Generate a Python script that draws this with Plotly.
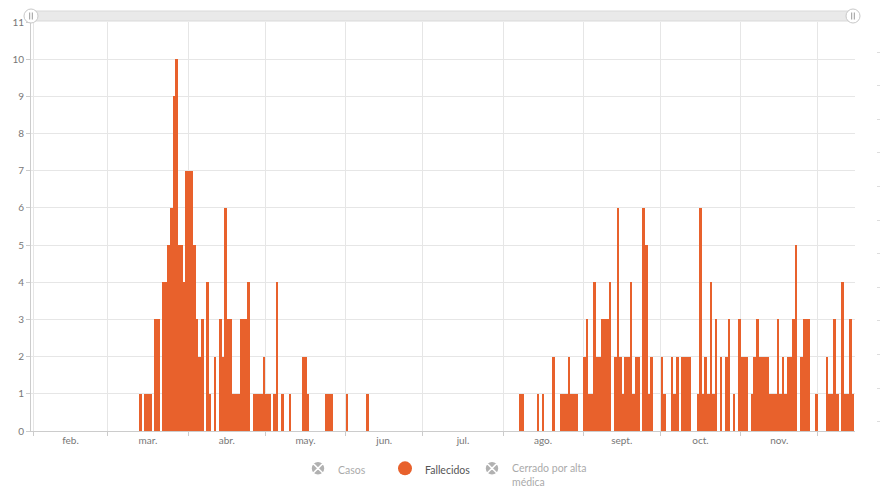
import pandas as pd
import plotly.graph_objects as go

# ---- data: daily deaths ("Fallecidos"), one value per day starting 2020-02-24 ----
start_day = "2020-02-24"
feb_tail = [0, 0, 0, 0, 0, 0]
mar = [0, 0, 0, 0, 0, 0, 0, 0, 0, 0, 0, 0, 1, 0, 1, 1, 1, 0, 3, 3, 0, 4, 4, 5, 6, 9, 10, 5, 5, 4, 7]
apr = [7, 7, 5, 3, 2, 3, 0, 4, 1, 0, 2, 0, 3, 2, 6, 3, 3, 1, 1, 1, 3, 3, 3, 4, 0, 1, 1, 1, 1, 2]
may = [1, 1, 0, 1, 4, 0, 1, 0, 0, 1, 0, 0, 0, 0, 2, 2, 1, 0, 0, 0, 0, 0, 0, 1, 1, 1, 0, 0, 0, 0, 0]
jun = [1, 0, 0, 0, 0, 0, 0, 0, 1, 0, 0, 0, 0, 0, 0, 0, 0, 0, 0, 0, 0, 0, 0, 0, 0, 0, 0, 0, 0, 0]
jul = [0] * 31
aug = [0, 0, 0, 0, 0, 0, 1, 1, 0, 0, 0, 0, 0, 1, 0, 1, 0, 0, 0, 2, 0, 0, 1, 1, 1, 2, 1, 1, 1, 0, 0]
sep = [2, 3, 1, 1, 4, 2, 2, 3, 3, 3, 4, 0, 2, 6, 2, 1, 2, 2, 4, 1, 2, 2, 0, 6, 5, 1, 2, 0, 0, 0]
oct_ = [2, 1, 0, 0, 2, 1, 2, 0, 2, 2, 2, 2, 0, 0, 1, 6, 1, 2, 1, 4, 1, 3, 0, 2, 0, 2, 3, 0, 1, 0, 3]
nov = [2, 2, 2, 0, 1, 2, 3, 2, 2, 2, 2, 1, 1, 1, 3, 1, 2, 1, 2, 2, 3, 5, 0, 2, 3, 3, 3, 0, 0, 1]
dec = [0, 0, 0, 2, 1, 1, 3, 1, 0, 4, 1, 1, 3, 1]

fallecidos = feb_tail + mar + apr + may + jun + jul + aug + sep + oct_ + nov + dec
dates = pd.date_range(start=start_day + " 12:00", periods=len(fallecidos), freq="D")

month_labels = ["feb.", "mar.", "abr.", "may.", "jun.", "jul.", "ago.", "sept.", "oct.", "nov."]
month_label_pos = ["2020-02-15 12:00", "2020-03-16 12:00", "2020-04-16", "2020-05-16 12:00",
                   "2020-06-16", "2020-07-16 12:00", "2020-08-16 12:00", "2020-09-16",
                   "2020-10-16 12:00", "2020-11-16"]
month_starts = ["2020-02-01", "2020-03-01", "2020-04-01", "2020-05-01", "2020-06-01", "2020-07-01",
                "2020-08-01", "2020-09-01", "2020-10-01", "2020-11-01", "2020-12-01"]
legend_names = ["Casos", "Fallecidos", "Cerrado por alta<br>médica"]

ORANGE = "#E8612C"
GRID = "#e6e6e6"
AXIS = "#cccccc"
FONT = "Lato, Open Sans, sans-serif"

W, H = 880, 495
ML, MR, MT, MB = 31, 4, 22, 64
PW = W - ML - MR
PH = H - MT - MB


def xp(px):
    return (px - ML) / PW


def yp(py):
    return (H - MB - py) / PH


fig = go.Figure()

# legend-only series (disabled in reference)
fig.add_trace(go.Scatter(x=[None], y=[None], name=legend_names[0], mode="markers", yaxis="y2",
                         visible="legendonly", legend="legend",
                         marker=dict(symbol="circle-x", size=14, color="#666666",
                                     line=dict(color="white", width=1.5))))
fig.add_trace(go.Bar(x=dates, y=fallecidos, name="Fallecidos", marker_color=ORANGE,
                     marker_line_width=0, showlegend=False, legendgroup="f", legend="legend2"))
fig.add_trace(go.Scatter(x=[None], y=[None], name=legend_names[1], mode="markers",
                         legendgroup="f", legend="legend2",
                         marker=dict(symbol="circle", size=14, color=ORANGE)))
fig.add_trace(go.Scatter(x=[None], y=[None], name=legend_names[2], mode="markers", yaxis="y2",
                         visible="legendonly", legend="legend3",
                         marker=dict(symbol="circle-x", size=14, color="#666666",
                                     line=dict(color="white", width=1.5))))

shapes = []
# range slider look-alike at top
shapes.append(dict(type="rect", xref="paper", yref="paper", x0=xp(31), x1=xp(855), y0=yp(21), y1=yp(11),
                   fillcolor="#e9e9e9", line=dict(color="#d9d9d9", width=1), layer="above"))
for cx in (31, 853):
    shapes.append(dict(type="circle", xref="paper", yref="paper", x0=xp(cx - 7), x1=xp(cx + 7),
                       y0=yp(23), y1=yp(9), fillcolor="white", line=dict(color="#c8c8c8", width=1),
                       layer="above"))
    for gx in (cx - 1.3, cx + 1.3):
        shapes.append(dict(type="line", xref="paper", yref="paper", x0=xp(gx), x1=xp(gx),
                           y0=yp(19.5), y1=yp(12.5), line=dict(color="#9a9a9a", width=1), layer="above"))


def legend_at(icon_px):
    return dict(orientation="h", x=xp(icon_px - 20), xanchor="left", y=yp(455), yanchor="top",
                valign="top", bgcolor="rgba(0,0,0,0)",
                font=dict(family=FONT, size=10.5, color="#555555"),
                itemclick=False, itemdoubleclick=False)


fig.update_layout(
    width=W, height=H,
    margin=dict(l=ML, r=MR, t=MT, b=MB, autoexpand=False),
    paper_bgcolor="white", plot_bgcolor="white",
    font=dict(family=FONT, color="#777777", size=10),
    bargap=0,
    showlegend=True,
    legend=legend_at(318),
    legend2=legend_at(405),
    legend3=legend_at(492),
    xaxis=dict(type="date", domain=[0, xp(855)],
               range=["2020-01-31 04:19", "2020-12-15 08:00"],
               tickmode="array", tickvals=month_label_pos, ticktext=month_labels,
               ticks="", showgrid=False, showline=True, linecolor=AXIS, linewidth=1,
               tickfont=dict(size=10, color="#777777"), zeroline=False,
               minor=dict(tickmode="array", tickvals=month_starts, ticks="outside", ticklen=4,
                          tickcolor=AXIS, showgrid=True, gridcolor=GRID, gridwidth=1)),
    yaxis=dict(range=[0, 11], tick0=0, dtick=1, showgrid=True, gridcolor=GRID, gridwidth=1,
               showline=True, linecolor=AXIS, linewidth=1, ticks="outside", ticklen=4,
               tickcolor=AXIS, tickfont=dict(size=10, color="#777777"), zeroline=False),
    yaxis2=dict(overlaying="y", side="right", anchor="free", position=1.0,
                range=[-0.277, 11.896], tick0=0, dtick=1, showgrid=False, showline=False,
                ticks="outside", ticklen=4, tickcolor="#dddddd", showticklabels=False,
                zeroline=False),
    shapes=shapes,
)

fig.write_html("out.html")
